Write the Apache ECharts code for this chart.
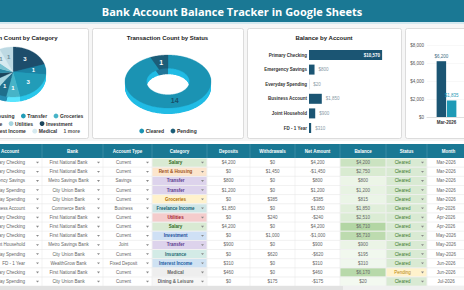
<!DOCTYPE html>
<html><head><meta charset="utf-8">
<script src="https://cdn.jsdelivr.net/npm/echarts@6/dist/echarts.min.js"></script>
<style>html,body{margin:0;padding:0;background:#fff;overflow:hidden}#c{width:464px;height:290px}</style>
</head><body><div id="c"></div>
<script>
// ---------------- data ----------------
const pageTitle = 'Bank Account Balance Tracker in Google Sheets';

const catTitle = 'Transaction Count by Category';
const catNames = ['Salary','Rent & Housing','Transfer','Groceries','Freelance Income','Utilities','Investment','Insurance','Interest Income','Medical','Dining & Leisure'];
const catCounts = [3,1,3,1,1,1,1,1,1,1,1];

const statusTitle = 'Transaction Count by Status';
const statusNames = ['Cleared','Pending'];
const statusCounts = [14,1];

const balanceTitle = 'Balance by Account';
const balanceAccounts = ['Primary Checking','Emergency Savings','Everyday Spending','Business Account','Joint Household','FD - 1 Year'];
const balanceValues = [10570,800,20,1850,900,310];

// only the first month is visible in the picture
const monthNames = ['Mar-2026'];
const monthDeposits = [6200];
const monthWithdrawals = [1835];
const monthAxisMax = 8000, monthAxisStep = 2000;

const tableHeaders = ['Account','Bank','Account Type','Category','Deposits','Withdrawals','Net Amount','Balance','Status','Month'];
const rowAccount = ['Primary Checking','Primary Checking','Emergency Savings','Everyday Spending','Everyday Spending','Business Account','Primary Checking','Primary Checking','Primary Checking','Joint Household','Everyday Spending','FD - 1 Year','Primary Checking','Everyday Spending'];
const rowBank = ['First National Bank','First National Bank','Metro Savings Bank','City Union Bank','City Union Bank','Commerce Bank','First National Bank','First National Bank','First National Bank','Metro Savings Bank','City Union Bank','WealthGrow Bank','First National Bank','City Union Bank'];
const rowType = ['Current','Current','Savings','Current','Current','Business','Current','Current','Current','Joint','Current','Fixed Deposit','Current','Current'];
const rowCategory = ['Salary','Rent & Housing','Transfer','Transfer','Groceries','Freelance Income','Utilities','Salary','Investment','Transfer','Insurance','Interest Income','Medical','Dining & Leisure'];
const rowDeposits = [4200,0,800,1200,0,1850,0,4200,0,900,0,310,460,0];
const rowWithdrawals = [0,1450,0,0,385,0,240,0,1000,0,620,0,0,175];
const rowNet = [4200,-1450,800,1200,-385,1850,-240,4200,-1000,900,-620,310,460,-175];
const rowBalance = [4200,2750,800,1200,815,1850,2510,6710,5710,900,195,310,6170,20];
const rowStatus = ['Cleared','Cleared','Cleared','Cleared','Cleared','Cleared','Cleared','Cleared','Cleared','Cleared','Cleared','Cleared','Pending','Cleared'];
const rowMonth = ['Mar-2026','Mar-2026','Mar-2026','Mar-2026','Mar-2026','Apr-2026','Apr-2026','Apr-2026','May-2026','May-2026','May-2026','Jun-2026','Jun-2026','Jul-2026'];

// ---------------- styles / layout ----------------
const FF = '"Liberation Sans", Arial, sans-serif';
const TEAL = '#1a7894';
const catColors = ['#1d4d6b','#1b82a3','#229cb8','#47b3c7','#1f6f8c','#a6d4df','#1b455c','#2b8ba7','#77c1d1','#d6eaf0','#bdd9e3'];
const catLabelColors = ['#fff','#fff','#fff','#fff','#fff','#3d6474','#fff','#fff','#fff','#6b8c99','#6b8c99'];
const statusColors = ['#1b93b3','#1c5d78'];
const statusLabelColors = ['#17506a','#ffffff'];
const catStyle = {
  'Salary':['#d9ead3','#2f6b25'], 'Rent & Housing':['#fce5cd','#a0541b'], 'Transfer':['#ddd3ec','#5b3a8c'],
  'Groceries':['#fff2cc','#b06d00'], 'Freelance Income':['#cfe6e6','#136070'], 'Utilities':['#f4cccc','#a3162e'],
  'Investment':['#cfe0f5','#1c4f9a'], 'Insurance':['#d3ebe6','#1f6a75'], 'Interest Income':['#cfe2f3','#1a5aa0'],
  'Medical':['#eeeeee','#666666'], 'Dining & Leisure':['#f6f6f6','#666666']
};
const statusStyle = {'Cleared':['#d9ead3','#3b7a2a'],'Pending':['#fff2cc','#b7860b']};

const fmt = v => (v < 0 ? '-' : '') + '$' + Math.abs(v).toLocaleString('en-US');

const G = [];
const rect = (x,y,w,h,fill,extra={}) => G.push(Object.assign({type:'rect', z:0, shape:{x,y,width:w,height:h,r:extra.r||0}, style:{fill, stroke:extra.stroke||null, lineWidth:extra.lw||0}}, extra.z!=null?{z:extra.z}:{}));
const line = (x1,y1,x2,y2,stroke,lw=0.6) => G.push({type:'line', z:1, shape:{x1,y1,x2,y2}, style:{stroke, lineWidth:lw}});
const T = (x,y,text,font,fill,align='center') => G.push({type:'text', z:5, x, y, style:{text, font, fill, align, verticalAlign:'middle'}});
const tri = (x,y,fill='#8a8a8a') => G.push({type:'polygon', z:6, shape:{points:[[x-1.5,y-0.8],[x+1.5,y-0.8],[x,y+1]]}, style:{fill}});

const mctx = document.createElement('canvas').getContext('2d');
const measure = (t, font) => { mctx.font = font; return mctx.measureText(t).width; };

// page background / title
rect(0,0,464,290,'#ffffff',{z:-2});
rect(0,24,464,117,'#f6f6f6',{z:-1});
rect(0,0,464,22,TEAL);
rect(0,22,464,2,'#d3e8ef');
T(232,11.5,pageTitle,'bold 11px "Open Sans", sans-serif','#ffffff');

// panels
const panels = [[-64,88],[92,243],[247,401],[405,560]];
panels.forEach(p => rect(p[0]+0.5,28.5,p[1]-p[0],110,'#ffffff',{stroke:'#d4d4d4',lw:0.8,r:2}));
const titleFont = 'bold 6px ' + FF;
T(13,37.5,catTitle,titleFont,'#222');
T(167.5,37.5,statusTitle,titleFont,'#222');
T(324,37.5,balanceTitle,titleFont,'#222');

// legends
const legFont = 'bold 5px ' + FF;
function legendRow(items, cx, y) {
  const r = 2.4, pad = 1.6, gap = 6.5;
  const widths = items.map(it => (it.color ? 2*r + pad : 0) + measure(it.name, legFont));
  const total = widths.reduce((a,b)=>a+b,0) + gap*(items.length-1);
  let x = cx - total/2;
  items.forEach((it,k) => {
    let tx = x;
    if (it.color) { G.push({type:'circle', z:5, shape:{cx:x+r, cy:y, r}, style:{fill:it.color}}); tx = x + 2*r + pad; }
    T(tx, y, it.name, legFont, it.color ? '#333' : '#555', 'left');
    x += widths[k] + gap;
  });
}
const catLegendRows = [[0,1,2,3],[4,5,6],[7,8,9]];
catLegendRows.forEach((row,ri) => {
  const items = row.map(i => ({name:catNames[i], color:catColors[i]}));
  if (ri === catLegendRows.length-1) items.push({name:(catNames.length - 10) + ' more'});
  legendRow(items, 13, 116 + ri*7.6);
});
legendRow(statusNames.map((n,i)=>({name:n,color:statusColors[i]})), 168, 131);

// ---------------- table ----------------
const cols = [
  {x0:-40,x1:42,drop:true,tx:25,al:'right',hx:10},
  {x0:42,x1:103,drop:true},{x0:103,x1:152,drop:true},{x0:152,x1:207,drop:true},
  {x0:207,x1:250},{x0:250,x1:295},{x0:295,x1:340},{x0:340,x1:386},
  {x0:386,x1:427,drop:true},{x0:427,x1:470,tx:446}
];
const hdrTop = 144, hdrH = 14, rowTop = 158, rowH = 9.15;
rect(-1,hdrTop,470,hdrH,TEAL);
tableHeaders.forEach((h,j) => {
  const c = cols[j];
  T(c.hx != null ? c.hx : (c.x0+c.x1)/2, hdrTop+hdrH/2, h, 'bold 4.5px ' + FF, '#ffffff');
  if (j>0) line(c.x0,hdrTop,c.x0,hdrTop+hdrH,'#4d98ae',0.6);
});
const bMin = Math.min(...rowBalance), bMax = Math.max(...rowBalance);
const cellFont = '4.5px ' + FF;
rowAccount.forEach((acc,i) => {
  const y0 = rowTop + i*rowH, yc = y0 + rowH/2;
  line(-1,y0+rowH,470,y0+rowH,'#e2e2e2',0.5);
  const vals = [acc,rowBank[i],rowType[i],rowCategory[i],fmt(rowDeposits[i]),fmt(rowWithdrawals[i]),fmt(rowNet[i]),fmt(rowBalance[i]),rowStatus[i],rowMonth[i]];
  vals.forEach((v,j) => {
    const c = cols[j];
    let color = '#666', font = cellFont;
    if (j===3) { const st = catStyle[v]; rect(c.x0+0.3,y0+0.4,c.x1-c.x0-0.6,rowH-0.8,st[0],{z:0}); color = st[1]; font = 'bold 4.5px ' + FF; }
    if (j===7) { const t = (rowBalance[i]-bMin)/(bMax-bMin); rect(c.x0+0.3,y0+0.4,c.x1-c.x0-0.6,rowH-0.8,echarts.color.lerp(t,['#f3f9f0','#b3d6a4']),{z:0}); }
    if (j===8) { const st = statusStyle[v]; rect(c.x0+0.3,y0+0.4,c.x1-c.x0-0.6,rowH-0.8,st[0],{z:0}); color = st[1]; }
    const tx = c.tx != null ? c.tx : (c.drop ? (c.x0 + c.x1 - 8)/2 : (c.x0+c.x1)/2);
    T(tx, yc, v, font, color, c.al || 'center');
    if (c.drop) tri(c.x1-4.5, yc);
  });
});
cols.forEach((c,j) => { if (j>0) line(c.x0,rowTop,c.x0,rowTop+rowH*rowAccount.length,'#e4e4e4',0.5); });
rect(0,286,343,4,'#e2e2e2',{z:2});
rect(343,286,121,4,'#f0f0f0',{z:2});

// ---------------- 3D pies (custom series) ----------------
function pie3d(cfg, names, counts, colors, labelColors) {
  const total = counts.reduce((a,b)=>a+b,0);
  let acc = 0;
  const data = counts.map((v,i) => { const s = acc/total; acc += v; return {name:names[i], value:[s, acc/total, v]}; });
  const poly = (a0,a1,dy) => {
    const n = Math.max(2, Math.ceil((a1-a0)/(Math.PI/120))), pts = [];
    for (let k=0;k<=n;k++){ const a=a0+(a1-a0)*k/n; pts.push([cfg.cx+cfg.rx*Math.sin(a), cfg.cy-cfg.ry*Math.cos(a)+dy]); }
    if (cfg.inner > 0) { for (let k=n;k>=0;k--){ const a=a0+(a1-a0)*k/n; pts.push([cfg.cx+cfg.rx*cfg.inner*Math.sin(a), cfg.cy-cfg.ry*cfg.inner*Math.cos(a)+dy]); } }
    else pts.push([cfg.cx, cfg.cy+dy]);
    return pts;
  };
  const side = {type:'custom', coordinateSystem:'none', silent:true, z:3, data,
    renderItem:(p,api) => {
      const a0 = api.value(0)*2*Math.PI, a1 = api.value(1)*2*Math.PI;
      const col = echarts.color.lift(colors[p.dataIndex], -0.28);
      const children = [];
      for (let d=cfg.depth; d>=1; d-=0.5) children.push({type:'polygon', shape:{points:poly(a0,a1,d)}, style:{fill:col}});
      return {type:'group', children};
    }};
  const top = {type:'custom', coordinateSystem:'none', silent:true, z:4, data,
    renderItem:(p,api) => {
      const a0 = api.value(0)*2*Math.PI, a1 = api.value(1)*2*Math.PI, am = (a0+a1)/2;
      const lr = cfg.inner > 0 ? (1+cfg.inner)/2 : cfg.labelR;
      return {type:'group', children:[
        {type:'polygon', shape:{points:poly(a0,a1,0)}, style:{fill:colors[p.dataIndex], stroke:colors[p.dataIndex], lineWidth:0.3}},
        {type:'text', x:cfg.cx+cfg.rx*lr*Math.sin(am), y:cfg.cy-cfg.ry*lr*Math.cos(am), style:{text:String(api.value(2)), font:'bold '+cfg.fs+'px '+FF, fill:labelColors[p.dataIndex], align:'center', verticalAlign:'middle'}}
      ]};
    }};
  return [side, top];
}

const catPie = pie3d({cx:13, cy:72, rx:33, ry:25, inner:0, depth:5, labelR:0.62, fs:6}, catNames, catCounts, catColors, catLabelColors);
const statusPie = pie3d({cx:168, cy:81.5, rx:43, ry:26.5, inner:0.5, depth:6, fs:7}, statusNames, statusCounts, statusColors, statusLabelColors);

// ---------------- chart ----------------
const chart = echarts.init(document.getElementById('c'), null, {renderer:'svg', width:464, height:290});
const axFont = {fontFamily:FF, fontSize:4.5};
chart.setOption({
  animation:false,
  backgroundColor:'transparent',
  graphic:{elements:G},
  grid:[
    {left:309, top:47.7, width:83, height:87.6, outerBoundsMode:'none', containLabel:false},
    {left:427, top:45, width:39*monthNames.length, height:72, outerBoundsMode:'none', containLabel:false}
  ],
  xAxis:[
    {gridIndex:0, type:'value', min:0, max:12000, show:false},
    {gridIndex:1, type:'category', data:monthNames, axisTick:{show:false},
     axisLine:{lineStyle:{color:'#cfcfcf', width:0.6}},
     axisLabel:Object.assign({color:'#333', fontWeight:'bold', margin:3, interval:0}, axFont)}
  ],
  yAxis:[
    {gridIndex:0, type:'category', inverse:true, data:balanceAccounts, axisLine:{show:false}, axisTick:{show:false},
     axisLabel:Object.assign({color:'#333', fontWeight:'bold', margin:2, interval:0}, axFont)},
    {gridIndex:1, type:'value', min:0, max:monthAxisMax, interval:monthAxisStep,
     axisLine:{show:false}, axisTick:{show:false}, splitLine:{lineStyle:{color:'#f1f1f1', width:0.5}},
     axisLabel:Object.assign({color:'#555', margin:3, formatter:v=>fmt(v)}, axFont)}
  ],
  series:[
    ...catPie, ...statusPie,
    {type:'bar', xAxisIndex:0, yAxisIndex:0, barWidth:10, itemStyle:{color:'#1b5573'}, z:5,
     data:balanceValues.map((v,i)=>({value:v, label: i===0 ? {position:'insideRight', color:'#fff', fontWeight:'bold', distance:2} : {position:'right', color:'#8a9aa6', distance:4}})),
     label:Object.assign({show:true, formatter:p=>fmt(p.value)}, axFont)},
    {type:'bar', name:'Deposits', xAxisIndex:1, yAxisIndex:1, barWidth:9.5, barGap:'8%', itemStyle:{color:'#1b5573'}, z:5,
     data:monthDeposits, label:Object.assign({show:true, position:'top', distance:2, color:'#3f6f84', formatter:p=>fmt(p.value)}, axFont)},
    {type:'bar', name:'Withdrawals', xAxisIndex:1, yAxisIndex:1, barWidth:9.5, itemStyle:{color:'#1e9ab6'}, z:5,
     data:monthWithdrawals, label:Object.assign({show:true, position:'top', distance:2, color:'#1e9ab6', formatter:p=>fmt(p.value)}, axFont)}
  ]
});
</script>
</body></html>
